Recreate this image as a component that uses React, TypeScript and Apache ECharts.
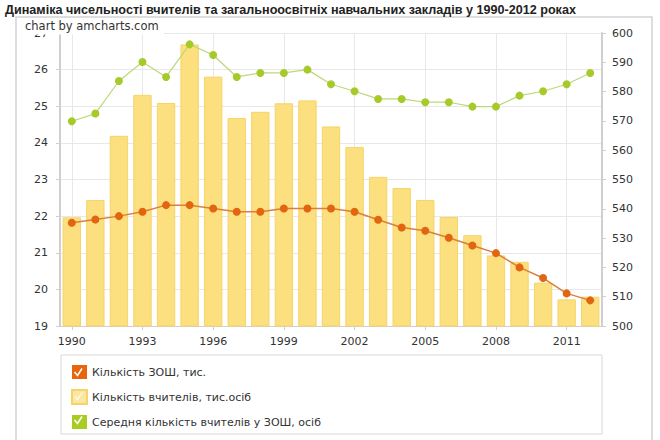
import * as echarts from 'echarts'
import { useEffect, useRef } from 'react'

const years = ['1990', '1991', '1992', '1993', '1994', '1995', '1996', '1997', '1998', '1999', '2000', '2001',
  '2002', '2003', '2004', '2005', '2006', '2007', '2008', '2009', '2010', '2011', '2012']

// кількість ЗОШ, тис. (ліва вісь)
const schools = [21.82, 21.91, 22.0, 22.12, 22.3, 22.3, 22.21, 22.12, 22.12, 22.21, 22.21, 22.21,
  22.12, 21.9, 21.69, 21.6, 21.41, 21.2, 20.99, 20.6, 20.31, 19.89, 19.7]

// кількість вчителів, тис. осіб (права вісь)
const teachers = [537.1, 543.0, 564.9, 578.9, 576.1, 596.1, 585.1, 571.0, 573.1, 576.0, 577.0, 568.1,
  561.1, 550.9, 547.1, 543.0, 537.2, 531.0, 524.1, 521.9, 514.8, 509.1, 510.0]

// середня кількість вчителів у ЗОШ (ліва вісь)
const avgTeachers = [24.59, 24.8, 25.69, 26.21, 25.8, 26.69, 26.4, 25.8, 25.91, 25.91, 26.0, 25.6,
  25.41, 25.2, 25.2, 25.11, 25.11, 24.99, 24.99, 25.29, 25.41, 25.6, 25.91]

const seriesNames = ['Кількість ЗОШ, тис.', 'Кількість вчителів, тис.осіб', 'Середня кількість вчителів у ЗОШ, осіб']

const FONT = 'DejaVu Sans'
const AXIS_GRAY = '#cfcfcf'

const buildOption = (): echarts.EChartsOption => ({
  animation: false,
  backgroundColor: '#fff',
  title: {
    text: 'Динаміка чисельності вчителів та загальноосвітніх навчальних закладів у 1990-2012 роках',
    left: 5,
    top: 3,
    padding: 0,
    textStyle: { fontFamily: 'Liberation Sans', fontSize: 12.6, fontWeight: 'bold', color: '#222' }
  },
  grid: { left: 60, right: 58, top: 33, bottom: 114, containLabel: false },
  legend: {
    orient: 'vertical',
    left: 71,
    top: 365,
    padding: 0,
    itemGap: 10,
    itemWidth: 15,
    itemHeight: 14,
    icon: 'rect',
    textStyle: { fontFamily: FONT, fontSize: 11, color: '#333', padding: [0, 0, 0, 0] },
    data: [
      { name: seriesNames[0], itemStyle: { color: '#e8650e' } },
      { name: seriesNames[1], itemStyle: { color: '#fbe7a2' } },
      { name: seriesNames[2], itemStyle: { color: '#a9cc22' } }
    ]
  },
  graphic: [
    // рамка графіка
    { type: 'rect', shape: { x: 16, y: 17, width: 636, height: 440 }, style: { fill: 'none', stroke: '#d4d4d4', lineWidth: 1.5 }, z: -1 },
    // підпис amcharts на білому тлі, що трохи перекриває верхню мітку осі
    { type: 'rect', shape: { x: 18, y: 18.5, width: 146, height: 16 }, style: { fill: '#fff' }, z: 50 },
    { type: 'text', left: 25, top: 20, style: { text: 'chart by amcharts.com', fontFamily: FONT, fontSize: 11.5, fill: '#333' }, z: 51 },
    // рамка легенди
    { type: 'rect', shape: { x: 61, y: 355, width: 541, height: 79 }, style: { fill: 'none', stroke: '#d8d8d8', lineWidth: 1 } },
    // галочки
    { type: 'polyline', shape: { points: [[74.5, 372], [77.5, 375.5], [82, 368.5]] }, style: { stroke: '#fff', lineWidth: 1.5, fill: 'none' }, z: 100 },
    { type: 'polyline', shape: { points: [[74.5, 396], [77.5, 399.5], [82, 392.5]] }, style: { stroke: '#fff', lineWidth: 1.5, fill: 'none', opacity: 0.7 }, z: 100 },
    { type: 'polyline', shape: { points: [[74.5, 420], [77.5, 423.5], [82, 416.5]] }, style: { stroke: '#fff', lineWidth: 1.5, fill: 'none' }, z: 100 }
  ],
  xAxis: {
    type: 'category',
    data: years,
    axisLine: { lineStyle: { color: AXIS_GRAY, width: 1 } },
    axisTick: { show: true, interval: 2, alignWithLabel: true, length: 4, lineStyle: { color: AXIS_GRAY } },
    axisLabel: { interval: 2, margin: 10, fontFamily: FONT, fontSize: 11, color: '#333' },
    splitLine: { show: true, interval: 2, alignWithLabel: true, lineStyle: { color: '#e8e8e8', width: 1 } } as any
  },
  yAxis: [
    {
      type: 'value',
      min: 19,
      max: 27,
      interval: 1,
      axisLine: { show: true, lineStyle: { color: AXIS_GRAY, width: 2 } },
      axisTick: { show: true, length: 4, lineStyle: { color: AXIS_GRAY } },
      axisLabel: { margin: 12, fontFamily: FONT, fontSize: 11, color: '#333' },
      splitLine: { show: true, lineStyle: { color: '#e8e8e8', width: 1 } }
    },
    {
      type: 'value',
      min: 500,
      max: 600,
      interval: 10,
      position: 'right',
      axisLine: { show: true, lineStyle: { color: AXIS_GRAY, width: 2 } },
      axisTick: { show: true, length: 4, lineStyle: { color: AXIS_GRAY } },
      axisLabel: { margin: 10, fontFamily: FONT, fontSize: 11, color: '#333' },
      splitLine: { show: false }
    }
  ],
  series: [
    {
      name: seriesNames[1],
      type: 'bar',
      yAxisIndex: 1,
      data: teachers,
      barCategoryGap: '22%',
      itemStyle: { color: '#fcdf7e', borderColor: '#f5d46a', borderWidth: 1 },
      z: 1
    },
    {
      name: seriesNames[0],
      type: 'line',
      yAxisIndex: 0,
      data: schools,
      symbol: 'circle',
      symbolSize: 8,
      lineStyle: { color: '#d9803e', width: 1.5 },
      itemStyle: { color: '#e2650f' },
      z: 3
    },
    {
      name: seriesNames[2],
      type: 'line',
      yAxisIndex: 0,
      data: avgTeachers,
      symbol: 'circle',
      symbolSize: 8,
      lineStyle: { color: '#bdd77a', width: 1.2 },
      itemStyle: { color: '#a6ca2a' },
      z: 3
    }
  ]
})

const App = () => {
  const containerRef = useRef<HTMLDivElement>(null)

  useEffect(() => {
    if (!containerRef.current) return
    const chart = echarts.init(containerRef.current, null, { renderer: 'svg' })
    chart.setOption(buildOption())
    return () => {
      chart.dispose()
    }
  }, [])

  return (
    <div
      ref={containerRef}
      style={{ position: 'absolute', left: 0, top: 0, width: 660, height: 440 }}
    />
  )
}

export default App
